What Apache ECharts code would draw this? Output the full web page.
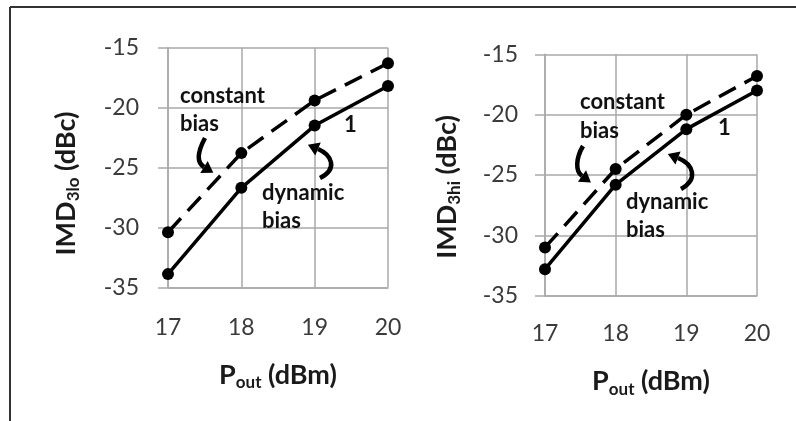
<!DOCTYPE html>
<html>
<head>
<meta charset="utf-8">
<script src="https://cdn.jsdelivr.net/npm/echarts@6/dist/echarts.min.js"></script>
<style>
  html, body { margin: 0; padding: 0; background: #fff; }
  #chart { width: 796px; height: 421px; }
</style>
</head>
<body>
<div id="chart"></div>
<script>
// output power (dBm)
const pout = [17, 18, 19, 20]
// IMD3 low side (dBc)
const imd3loConstant = [-30.4, -23.8, -19.4, -16.3]
const imd3loDynamic = [-33.9, -26.7, -21.5, -18.2]
// IMD3 high side (dBc)
const imd3hiConstant = [-31.0, -24.5, -20.0, -16.8]
const imd3hiDynamic = [-32.8, -25.8, -21.2, -18.0]

const FONT = "Lato, 'Open Sans', sans-serif"
const GRID_GRAY = "#a9a9a9"

const pairs = (ys) => pout.map((x, i) => [x, ys[i]])

// rich text for the axis titles with subscript
const titleRich = {
  b: { fontFamily: FONT, fontSize: 27, fontWeight: "bold", color: "#1a1a1a", lineHeight: 32 },
  s: { fontFamily: FONT, fontSize: 17, fontWeight: "bold", color: "#1a1a1a", lineHeight: 32, verticalAlign: "bottom" }
}

function xAxisFor(gridIndex, gap, margin) {
  return {
    type: "value",
    gridIndex,
    min: 17,
    max: 20,
    interval: 1,
    name: "{b|P}{s|out}{b| (dBm)}",
    nameLocation: "middle",
    nameGap: gap,
    nameTextStyle: { rich: titleRich },
    axisLine: { show: true, lineStyle: { color: GRID_GRAY, width: 1.5 } },
    axisTick: { show: false },
    axisLabel: { margin, fontFamily: FONT, fontSize: 23, color: "#3a3a3a" },
    splitLine: { show: true, lineStyle: { color: GRID_GRAY, width: 1.5 } }
  }
}

function yAxisFor(gridIndex, sub, gap, margin, shift) {
  return {
    type: "value",
    gridIndex,
    min: -35,
    max: -15,
    interval: 5,
    name: "{b|IMD}{s|" + sub + "}{b| (dBc)}",
    nameLocation: "middle",
    nameGap: gap,
    nameTextStyle: { rich: titleRich, padding: [0, shift, 0, 0] },
    axisLine: { show: true, lineStyle: { color: GRID_GRAY, width: 1.5 } },
    axisTick: { show: true, length: 10, lineStyle: { color: GRID_GRAY, width: 1.5 } },
    axisLabel: { margin, fontFamily: FONT, fontSize: 23, color: "#3a3a3a" },
    splitLine: { show: true, lineStyle: { color: GRID_GRAY, width: 1.5 } }
  }
}

function lineSeries(idx, ys, dashed) {
  return {
    type: "line",
    xAxisIndex: idx,
    yAxisIndex: idx,
    data: pairs(ys),
    symbol: "circle",
    symbolSize: 12,
    itemStyle: { color: "#000" },
    lineStyle: { color: "#000", width: 3.5, type: dashed ? [19, 10] : "solid" },
    animation: false,
    z: dashed ? 3 : 4
  }
}

// curved arrow: bezier body + triangular head continuing the end direction
function arrow(p0, c1, c2, p1) {
  const dx = p1[0] - c2[0], dy = p1[1] - c2[1]
  const len = Math.hypot(dx, dy)
  const ux = dx / len, uy = dy / len
  const tip = [p1[0] + ux * 11, p1[1] + uy * 11]
  const nx = -uy, ny = ux
  return [
    {
      type: "bezierCurve",
      shape: { x1: p0[0], y1: p0[1], cpx1: c1[0], cpy1: c1[1], cpx2: c2[0], cpy2: c2[1], x2: p1[0], y2: p1[1] },
      style: { stroke: "#000", lineWidth: 4.5, fill: null },
      z: 10
    },
    {
      type: "polygon",
      shape: { points: [tip, [p1[0] + nx * 7, p1[1] + ny * 7], [p1[0] - nx * 7, p1[1] - ny * 7]] },
      style: { fill: "#000" },
      z: 10
    }
  ]
}

function label(text, x, y) {
  return {
    type: "text",
    x, y,
    style: { text, font: "bold 22px " + FONT, fill: "#111", verticalAlign: "middle" },
    z: 10
  }
}

const chart = echarts.init(document.getElementById("chart"))

chart.setOption({
  backgroundColor: "#fff",
  animation: false,
  grid: [
    { left: 168, top: 47.7, width: 220, height: 239.6 },
    { left: 545, top: 54.3, width: 212, height: 241.4 }
  ],
  xAxis: [xAxisFor(0, 72, 29), xAxisFor(1, 70, 26)],
  yAxis: [yAxisFor(0, "3lo", 86, 29, 32), yAxisFor(1, "3hi", 82, 27, 24)],
  series: [
    lineSeries(0, imd3loConstant, true),
    lineSeries(0, imd3loDynamic, false),
    lineSeries(1, imd3hiConstant, true),
    lineSeries(1, imd3hiDynamic, false)
  ],
  graphic: [
    // outer frame (top and left edges)
    { type: "line", shape: { x1: 10, y1: 7, x2: 796, y2: 7 }, style: { stroke: "#333", lineWidth: 2 } },
    { type: "line", shape: { x1: 10, y1: 7, x2: 10, y2: 421 }, style: { stroke: "#333", lineWidth: 2 } },
    // left panel annotations
    label("constant", 180, 96),
    label("bias", 180, 124),
    label("dynamic", 262, 193),
    label("bias", 262, 221),
    label("1", 344, 125),
    ...arrow([205, 138], [198, 151], [196, 162], [204, 167]),
    ...arrow([320, 178], [338, 169], [332, 155], [318, 149]),
    // right panel annotations
    label("constant", 580, 102),
    label("bias", 580, 131),
    label("dynamic", 626, 202),
    label("bias", 626, 230),
    label("1", 718, 128),
    ...arrow([583, 146], [576, 158], [575, 171], [582, 176]),
    ...arrow([681, 189], [699, 179], [693, 164], [678, 158])
  ]
})
</script>
</body>
</html>
